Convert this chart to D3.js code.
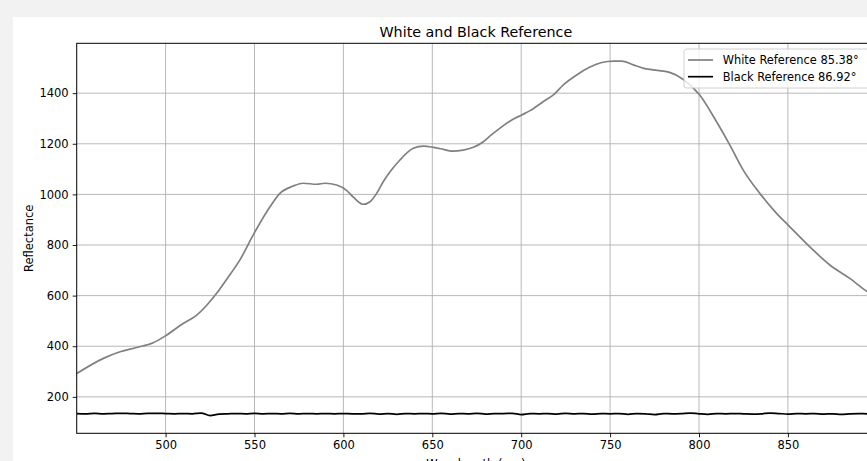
<!DOCTYPE html>
<html><head><meta charset="utf-8">
<script src="https://cdn.jsdelivr.net/npm/d3@7"></script>
<style>
html,body{margin:0;padding:0;background:#f2f2f2;}
svg{display:block;font-family:"DejaVu Sans",sans-serif;}
</style></head>
<body>
<svg id="chart" width="867" height="461"></svg>
<script>
const title = "White and Black Reference";
const xLabel = "Wavelength (nm)";
const yLabel = "Reflectance";
const seriesNames = ["White Reference 85.38°", "Black Reference 86.92°"];
const xTicks = [500, 550, 600, 650, 700, 750, 800, 850];
const yTicks = [200, 400, 600, 800, 1000, 1200, 1400];

const whiteWl = [450,465,474.4,483.7,493,499.7,509,517.5,524,528.7,534.4,541.8,549.3,558.7,564.3,571.8,577.4,585,589.7,596.2,601.9,605.6,611.2,615,618.7,622.4,627.1,631.8,639.3,645,650.6,656.2,660.9,667.4,673.1,678.7,682.5,688.1,694.7,700.3,705,712.5,718.1,723.7,731.2,738.7,745.3,751.8,756.5,763,768.5,774.1,783.5,791,800.4,809.8,817.3,824.8,834.2,843.6,851.1,862.3,873.6,884.8,896,899];
const whiteVal = [292,352,378,395,414,440,486,523,569,609,665,741,840,951,1004,1033,1044,1040,1044,1037,1015,989,961,971,1004,1050,1097,1136,1182,1191,1186,1178,1171,1175,1186,1208,1231,1262,1294,1314,1331,1367,1393,1433,1472,1503,1521,1527,1527,1512,1499,1492,1482,1455,1393,1288,1196,1097,1004,925,872,793,721,668,609,597];

const blackWl = [450,455,460,465,470,475,480,485,490,495,500,505,510,515,520,525,530,535,540,545,550,555,560,565,570,575,580,585,590,595,600,605,610,615,620,625,630,635,640,645,650,655,660,665,670,675,680,685,690,695,700,705,710,715,720,725,730,735,740,745,750,755,760,765,770,775,780,785,790,795,800,805,810,815,820,825,830,835,840,845,850,855,860,865,870,875,880,885,890,895,899];
const blackVal = [134,133,135,133,134,135,134,133,135,135,134,133,134,133,136,126,132,133,134,133,135,133,134,133,135,133,134,133,134,133,134,133,133,135,132,134,131,134,133,134,133,135,132,134,133,135,132,134,134,135,130,134,133,134,132,135,133,134,132,134,133,134,131,134,133,130,134,133,134,136,133,131,134,133,134,133,132,133,136,134,132,134,133,134,132,133,131,133,134,133,134];

const svg = d3.select("#chart");
svg.append("rect").attr("x",13).attr("y",17).attr("width",900).attr("height",500).attr("fill","#ffffff");

const L = 76.7, T = 43.3, B = 433.3, R = 76.7 + 449*1.778;
const x = d3.scaleLinear().domain([450, 899]).range([L, R]);
const allV = whiteVal.concat(blackVal);
const vmin = d3.min(allV), vmax = d3.max(allV), pad = (vmax - vmin) * 0.05;
const y = d3.scaleLinear().domain([vmin - pad, vmax + pad]).range([B, T]);

const g = svg.append("g");
g.selectAll(".gx").data(xTicks).enter().append("line")
  .attr("x1",d=>x(d)).attr("x2",d=>x(d)).attr("y1",T).attr("y2",B)
  .attr("stroke","#b0b0b0").attr("stroke-width",0.9);
g.selectAll(".gy").data(yTicks).enter().append("line")
  .attr("x1",L).attr("x2",R).attr("y1",d=>y(d)).attr("y2",d=>y(d))
  .attr("stroke","#b0b0b0").attr("stroke-width",0.9);

svg.append("clipPath").attr("id","clp").append("rect")
  .attr("x",L).attr("y",T).attr("width",R-L).attr("height",B-T);

const line = d3.line().x(d=>x(d[0])).y(d=>y(d[1])).curve(d3.curveMonotoneX);
const whiteData = whiteWl.map((w,i)=>[w, whiteVal[i]]);
const blackData = blackWl.map((w,i)=>[w, blackVal[i]]);
const plot = svg.append("g").attr("clip-path","url(#clp)");
plot.append("path").datum(whiteData).attr("d",line).attr("fill","none")
  .attr("stroke","#808080").attr("stroke-width",1.7);
plot.append("path").datum(blackData).attr("d",line).attr("fill","none")
  .attr("stroke","#000000").attr("stroke-width",1.7);

const xAxis = d3.axisBottom(x).tickValues(xTicks).tickSize(4).tickPadding(4).tickFormat(d3.format("d"));
const yAxis = d3.axisLeft(y).tickValues(yTicks).tickSize(4).tickPadding(4).tickFormat(d3.format("d"));
const gx = svg.append("g").attr("transform",`translate(0,${B})`).call(xAxis);
const gy = svg.append("g").attr("transform",`translate(${L},0)`).call(yAxis);
[gx, gy].forEach(a=>{
  a.select(".domain").remove();
  a.selectAll("line").attr("stroke","#000").attr("stroke-width",0.9);
  a.selectAll("text").attr("font-size","11.5px").attr("fill","#000").attr("font-family","DejaVu Sans, sans-serif");
});
svg.append("rect").attr("x",L).attr("y",T).attr("width",R-L).attr("height",B-T)
  .attr("fill","none").attr("stroke","#000").attr("stroke-width",1);

svg.append("text").attr("x",(L+R)/2).attr("y",37).attr("text-anchor","middle")
  .attr("font-size","14.3px").attr("fill","#000").text(title);
svg.append("text").attr("transform",`translate(32.5,${(T+B)/2}) rotate(-90)`)
  .attr("text-anchor","middle").attr("font-size","11.5px").attr("fill","#000").text(yLabel);
svg.append("text").attr("x",(L+R)/2).attr("y",468).attr("text-anchor","middle")
  .attr("font-size","11.5px").attr("fill","#000").text(xLabel);

const lg = svg.append("g");
const lx = 684, ly = 49, lw = 188, lh = 39;
lg.append("rect").attr("x",lx).attr("y",ly).attr("width",lw).attr("height",lh)
  .attr("rx",2.5).attr("fill","#ffffff").attr("fill-opacity",0.8)
  .attr("stroke","#cccccc").attr("stroke-width",0.9);
const colors = ["#808080","#000000"];
seriesNames.forEach((n,i)=>{
  const cy = 60 + i*16.7;
  lg.append("line").attr("x1",688).attr("x2",713).attr("y1",cy).attr("y2",cy)
    .attr("stroke",colors[i]).attr("stroke-width",1.7);
  lg.append("text").attr("x",722.7).attr("y",cy).attr("dy","0.35em")
    .attr("font-size","11.4px").attr("fill","#000").text(n);
});
</script>
</body></html>
